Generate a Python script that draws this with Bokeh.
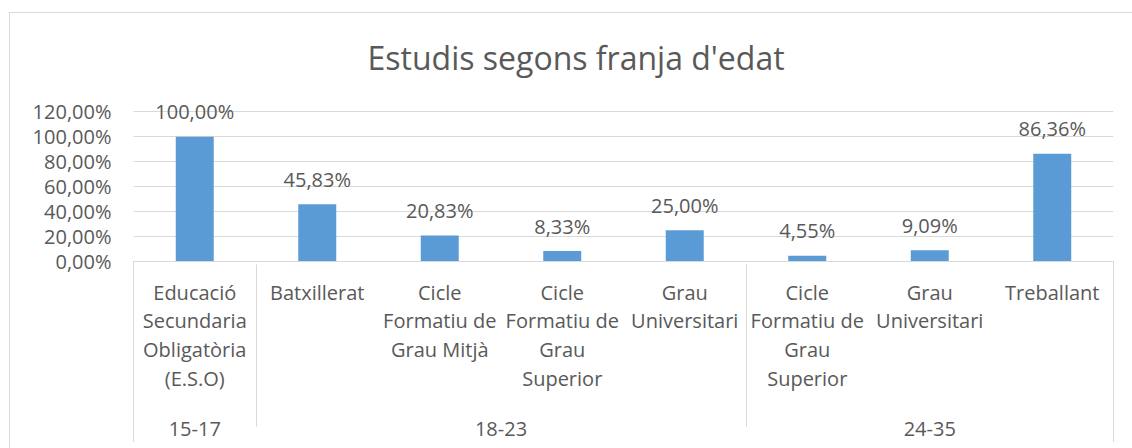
from bokeh.plotting import figure
from bokeh.models import FactorRange, Range1d, FixedTicker, CustomJSTickFormatter, ColumnDataSource
from bokeh.embed import file_html
from bokeh.resources import INLINE
from bokeh.core.properties import value

# ---- data ----
groups = ["15-17", "18-23", "18-23", "18-23", "18-23", "24-35", "24-35", "24-35"]
studies = [
    "Educació\nSecundaria\nObligatòria\n(E.S.O)",
    "Batxillerat",
    "Cicle\nFormatiu de\nGrau Mitjà",
    "Cicle\nFormatiu de\nGrau\nSuperior",
    "Grau\nUniversitari",
    "Cicle\nFormatiu de\nGrau\nSuperior",
    "Grau\nUniversitari",
    "Treballant",
]
percent = [100.00, 45.83, 20.83, 8.33, 25.00, 4.55, 9.09, 86.36]
y_ticks = [0, 20, 40, 60, 80, 100, 120]
title_text = "Estudis segons franja d'edat"

TXT = "#595959"
GRID = "#D9D9D9"
BAR = "#5B9BD5"
FONT = "Open Sans"

# a blank middle level only adds spacing between the two label rows
factors = [(g, " ", s) for g, s in zip(groups, studies)]
labels = [f"{v:.2f}".replace(".", ",") + "%" for v in percent]
src = ColumnDataSource(dict(x=factors, top=percent, label=labels))

# chart-area border (left/top) and outer category-axis edges, as page decoration
line = "linear-gradient(#d9d9d9,#d9d9d9)"
bg = ", ".join([
    f"{line} 9px 12px / 1px 100% no-repeat",
    f"{line} 9px 12px / 100% 1px no-repeat",
    f"{line} 133px 261px / 1px 181px no-repeat",
    f"{line} 1113px 261px / 1px 181px no-repeat",
    "white",
])

p = figure(
    width=1132, height=448,
    x_range=FactorRange(*factors, group_padding=0, subgroup_padding=0, factor_padding=0, range_padding=0),
    y_range=Range1d(0, 129),
    output_backend="svg", toolbar_location=None,
    min_border_left=133, min_border_right=19, min_border_top=100, min_border_bottom=187,
    styles={"background": bg},
)
p.outline_line_color = None
p.background_fill_color = "white"
p.border_fill_color = None

p.title.text = title_text
p.title.text_font = FONT
p.title.text_font_size = "32px"
p.title.text_font_style = "normal"
p.title.text_color = TXT
p.title.align = "left"
p.title.offset = 234
p.title.standoff = 43

p.vbar(x="x", top="top", width=0.31, source=src, fill_color=BAR, line_color=None)
p.text(x="x", y="top", text="label", source=src, text_align="center", text_baseline="alphabetic",
       y_offset=-25, text_font=value(FONT), text_font_size="20px", text_color=TXT)

p.yaxis.ticker = FixedTicker(ticks=y_ticks)
p.yaxis.formatter = CustomJSTickFormatter(code="return tick.toFixed(2).replace('.', ',') + '%';")
p.yaxis.axis_line_color = None
p.yaxis.major_tick_line_color = None
p.yaxis.minor_tick_line_color = None
p.yaxis.major_label_text_font = FONT
p.yaxis.major_label_text_font_size = "20px"
p.yaxis.major_label_text_color = TXT
p.yaxis.major_label_standoff = 16

p.ygrid.grid_line_color = GRID
p.xgrid.grid_line_color = None

ax = p.xaxis[0]
ax.axis_line_color = GRID
ax.major_tick_line_color = None
ax.major_label_text_font = FONT
ax.major_label_text_font_size = "20px"
ax.major_label_text_color = TXT
ax.major_label_text_line_height = 1.07
ax.major_label_standoff = 11
ax.major_label_orientation = "horizontal"
ax.subgroup_text_font = FONT
ax.subgroup_text_font_size = "1px"
ax.subgroup_text_color = TXT
ax.subgroup_label_orientation = "horizontal"
ax.group_text_font = FONT
ax.group_text_font_size = "20px"
ax.group_text_font_style = "normal"
ax.group_text_color = TXT
ax.group_label_orientation = "horizontal"
ax.separator_line_color = GRID
ax.separator_line_width = 1

open("out.html", "w").write(file_html(p, INLINE))
